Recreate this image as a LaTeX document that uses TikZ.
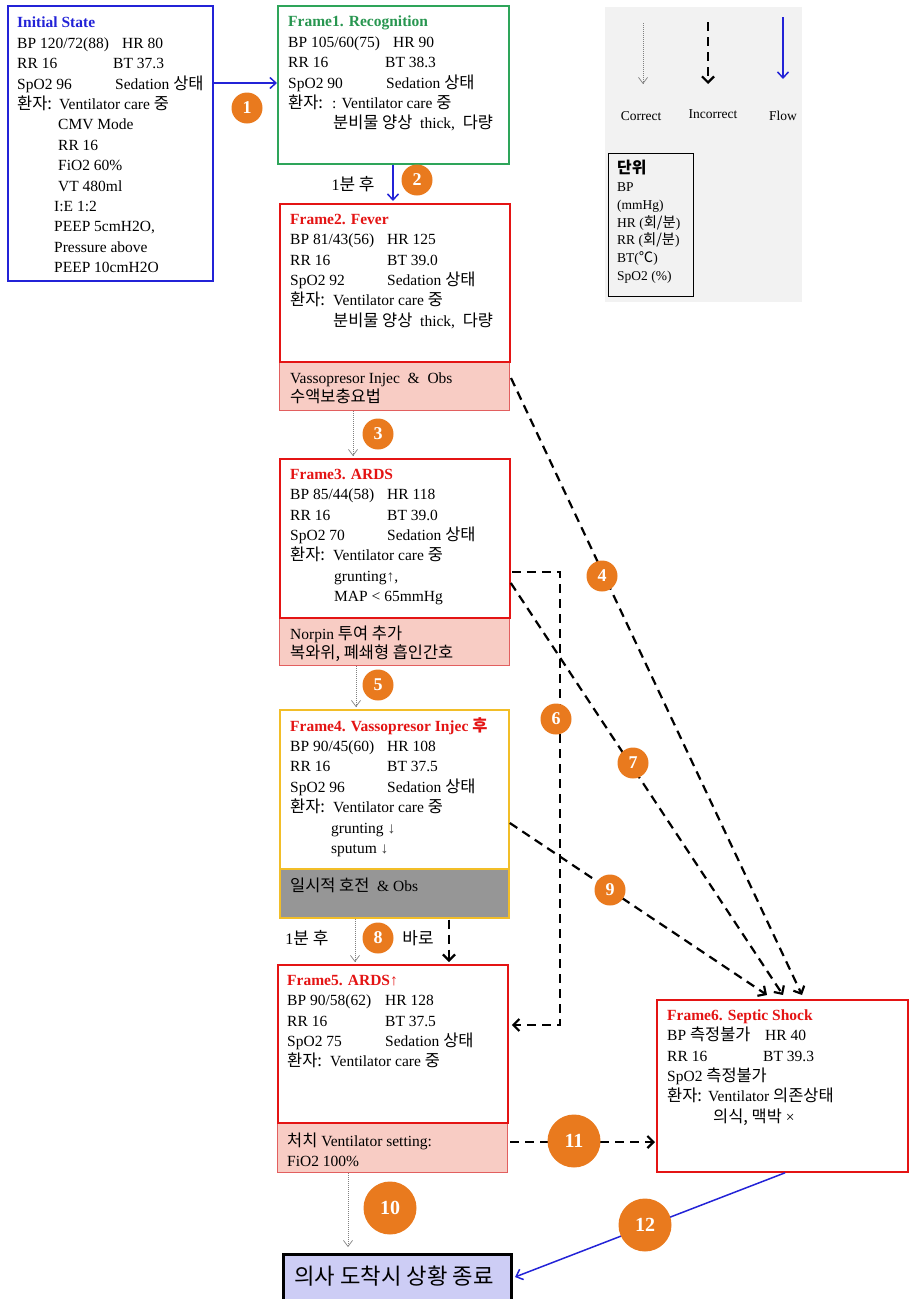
\documentclass[tikz,border=0pt]{standalone}
\usepackage{fontspec}
\setmainfont{Liberation Serif}
\newfontfamily\krf{Noto Sans CJK KR}[Scale=1.06]
\usetikzlibrary{arrows.meta,calc}
\newcommand\kor[1]{{\krf #1}}
\newcommand\fs{\fontsize{15.5}{20.4}\selectfont}
\newcommand\st{\rule{0pt}{12pt}}
\newcommand\cl[2]{\makebox[#1pt][l]{#2}}
\definecolor{fblue}{RGB}{35,35,215}
\definecolor{fgreen}{RGB}{46,165,90}
\definecolor{tgreen}{RGB}{40,150,80}
\definecolor{fred}{RGB}{228,20,20}
\definecolor{fgold}{RGB}{242,190,40}
\definecolor{pinkf}{RGB}{248,204,196}
\definecolor{pinkd}{RGB}{226,95,95}
\definecolor{grayf}{RGB}{150,150,150}
\definecolor{lav}{RGB}{205,205,245}
\definecolor{legbg}{RGB}{242,242,242}
\definecolor{orng}{RGB}{233,122,30}
\begin{document}
\begin{tikzpicture}[x=1pt,y=-1pt,
 box/.style={draw=#1, line width=1.8pt, inner sep=0pt, anchor=north west, fill=white},
 subbox/.style={draw=#1, line width=1pt, inner sep=0pt, anchor=north west},
 txt/.style={anchor=north west, inner sep=0pt, align=left, font=\fs},
 ball/.style={circle, fill=orng, text=white, inner sep=0pt, minimum size=31pt, font=\fontsize{18}{18}\selectfont\bfseries},
 bigball/.style={ball, minimum size=53pt, font=\fontsize{20}{20}\selectfont\bfseries},
 flow/.style={draw=fblue, line width=1.5pt, -{Straight Barb[length=6pt,width=11pt]}},
 wrong/.style={draw=black, line width=2.2pt, dash pattern=on 9pt off 6pt, -{Straight Barb[length=6pt,width=12pt]}},
 okay/.style={draw=gray, line width=0.7pt, dash pattern=on 1pt off 1pt, -{Straight Barb[length=6pt,width=9pt]}},
 lbl/.style={font=\fontsize{16}{20}\selectfont, inner sep=0pt}
]
\useasboundingbox (0,0) rectangle (908,1299);

% legend
\node[anchor=north west, fill=legbg, minimum width=197pt, minimum height=295pt, inner sep=0pt] (leg) at (605,7) {};
\coordinate (lc1) at (643,23); \coordinate (lc2) at (643,84);
\coordinate (li1) at (708,22); \coordinate (li2) at (708,84);
\coordinate (lf1) at (783,17); \coordinate (lf2) at (783,79);
\draw[okay] (lc1) -- (lc2);
\draw[wrong] (li1) -- (li2);
\draw[flow] (lf1) -- (lf2);
\node[inner sep=0pt, font=\fontsize{13.5}{16}\selectfont] (lcor) at (641,116) {Correct};
\node[inner sep=0pt, font=\fontsize{13.5}{16}\selectfont] (linc) at (713,114) {Incorrect};
\node[inner sep=0pt, font=\fontsize{13.5}{16}\selectfont] (lflo) at (783,116) {Flow};
\node[draw=black, line width=0.8pt, anchor=north west, minimum width=85pt, minimum height=143pt, inner sep=0pt] (unit) at (608,153) {};
\node[anchor=north west, inner sep=0pt, align=left, font=\fontsize{13.5}{17.8}\selectfont] (unitT) at (617,160) {\rule{0pt}{11pt}{\fontsize{15}{17.8}\selectfont\krf\bfseries 단위}\\BP\\(mmHg)\\HR (\kor{회/분})\\RR (\kor{회/분})\\BT(\kor{℃})\\SpO2 (\%)};

% boxes
\node[box=fblue, minimum width=205pt, minimum height=275pt] (init) at (7,5) {};
\node[box=fgreen, minimum width=231pt, minimum height=158pt] (f1) at (277,5) {};
\node[subbox=pinkd, fill=pinkf, minimum width=230pt, minimum height=49pt] (p2) at (279,361) {};
\node[box=fred, minimum width=230pt, minimum height=158pt] (f2) at (279,203) {};
\node[subbox=pinkd, fill=pinkf, minimum width=230pt, minimum height=48pt] (p3) at (279,617) {};
\node[box=fred, minimum width=230pt, minimum height=159pt] (f3) at (279,458) {};
\node[subbox=fgold, fill=grayf, minimum width=229pt, minimum height=49pt, line width=1.5pt] (g4) at (279,868) {};
\node[box=fgold, minimum width=229pt, minimum height=159pt] (f4) at (279,709) {};
\node[subbox=pinkd, fill=pinkf, minimum width=230pt, minimum height=50pt] (p5) at (277,1122) {};
\node[box=fred, minimum width=230pt, minimum height=158pt] (f5) at (277,964) {};
\node[box=fred, minimum width=251pt, minimum height=172pt] (f6) at (656,999) {};
\node[draw=black, line width=3pt, fill=lav, anchor=north west, minimum width=228pt, minimum height=52pt, inner sep=0pt] (fin) at (282,1253) {};
\node[inner sep=0pt, font=\fontsize{21}{26}\selectfont] (finT) at (394,1276) {\kor{의사 도착시 상황 종료}};

% texts
\node[txt] (initT) at (17,15.7) {\st{\color{fblue}\bfseries Initial State}\\
\cl{105}{BP 120/72(88)}HR 80\\
\cl{96}{RR 16}BT 37.3\\
\cl{98}{SpO2 96}Sedation \kor{상태}\\
\cl{42}{\kor{환자:}}Ventilator care \kor{중}\\
\hspace*{41pt}CMV Mode\\
\hspace*{41pt}RR 16\\
\hspace*{41pt}FiO2 60\%\\
\hspace*{41pt}VT 480ml\\
\hspace*{37pt}I:E 1:2\\
\hspace*{37pt}PEEP 5cmH2O,\\
\hspace*{37pt}Pressure above\\
\hspace*{37pt}PEEP 10cmH2O};

\node[txt] (f1T) at (288,14.7) {\st{\color{tgreen}\bfseries Frame1. Recognition}\\
\cl{105}{BP 105/60(75)}HR 90\\
\cl{97}{RR 16}BT 38.3\\
\cl{98}{SpO2 90}Sedation \kor{상태}\\
\cl{44}{\kor{환자:}}: Ventilator care \kor{중}\\
\hspace*{45pt}\kor{분비물 양상}\ \ thick,\ \ \kor{다량}};

\node[txt] (f2T) at (290,212) {\st{\color{fred}\bfseries Frame2. Fever}\\
\cl{97}{BP 81/43(56)}HR 125\\
\cl{97}{RR 16}BT 39.0\\
\cl{97}{SpO2 92}Sedation \kor{상태}\\
\cl{43}{\kor{환자:}}Ventilator care \kor{중}\\
\hspace*{43pt}\kor{분비물 양상}\ \ thick,\ \ \kor{다량}};
\node[txt, font=\fontsize{15.5}{19.2}\selectfont] (p2T) at (290,371) {\st Vassopresor Injec\ \ \&\ \ Obs\\\kor{수액보충요법}};

\node[txt] (f3T) at (290,467) {\st{\color{fred}\bfseries Frame3. ARDS}\\
\cl{97}{BP 85/44(58)}HR 118\\
\cl{97}{RR 16}BT 39.0\\
\cl{97}{SpO2 70}Sedation \kor{상태}\\
\cl{43}{\kor{환자:}}Ventilator care \kor{중}\\
\hspace*{44pt}grunting{\color{darkgray}↑},\\
\hspace*{44pt}MAP < 65mmHg};
\node[txt, font=\fontsize{15.5}{19.2}\selectfont] (p3T) at (290,626) {\st Norpin \kor{투여 추가}\\\kor{복와위, 폐쇄형 흡인간호}};

\node[txt] (f4T) at (290,717) {\st{\color{fred}\bfseries Frame4. Vassopresor Injec \kor{후}}\\
\cl{97}{BP 90/45(60)}HR 108\\
\cl{97}{RR 16}BT 37.5\\
\cl{97}{SpO2 96}Sedation \kor{상태}\\
\cl{43}{\kor{환자:}}Ventilator care \kor{중}\\
\hspace*{41pt}grunting {\color{darkgray}↓}\\
\hspace*{41pt}sputum {\color{darkgray}↓}};
\node[txt] (g4T) at (290,878) {\st\kor{일시적 호전}\ \ \& Obs};

\node[txt] (f5T) at (287,973) {\st{\color{fred}\bfseries Frame5. ARDS{\mdseries↑}}\\
\cl{98}{BP 90/58(62)}HR 128\\
\cl{98}{RR 16}BT 37.5\\
\cl{98}{SpO2 75}Sedation \kor{상태}\\
\cl{43}{\kor{환자:}}Ventilator care \kor{중}};
\node[txt, font=\fontsize{15.5}{19.6}\selectfont] (p5T) at (287,1133) {\st\kor{처치} Ventilator setting:\\FiO2 100\%};

\node[txt] (f6T) at (667,1008) {\st{\color{fred}\bfseries Frame6. Septic Shock}\\
\cl{98}{BP \kor{측정불가}}HR 40\\
\cl{96}{RR 16}BT 39.3\\
SpO2 \kor{측정불가}\\
\cl{41}{\kor{환자:}}Ventilator \kor{의존상태}\\
\hspace*{46pt}\kor{의식, 맥박} ×};

% labels
\node[lbl] (l2) at (353,184) {1\kor{분 후}};
\node[lbl] (l8a) at (307,938) {1\kor{분 후}};
\node[lbl] (l8b) at (418,938) {\kor{바로}};

% connectors
\draw[flow] ($(init.north east)+(0,78)$) -- ($(f1.north west)+(0,78)$);
\draw[flow] ($(f1.south west)+(116,0)$) -- ($(f2.north west)+(114,-2)$);
\draw[okay] ($(p2.south west)+(74,0)$) -- ($(f3.north west)+(74,-2)$);
\draw[okay] ($(p3.south west)+(77,0)$) -- ($(f4.north west)+(77,-2)$);
\draw[okay] ($(g4.south west)+(76,0)$) -- ($(f5.north west)+(78,-2)$);
\draw[okay] ($(p5.south west)+(71,0)$) -- ($(fin.north west)+(66,-6)$);
\draw[wrong] ($(g4.south west)+(170,1)$) -- ($(f5.north west)+(172,-2)$);
\draw[wrong] ($(p2.north east)+(1,17)$) -- ($(f6.north west)+(146,-4)$);
\draw[wrong] ($(f3.north east)+(1,114)$) -- ++(48,0) |- ($(f5.north east)+(3,61)$);
\draw[wrong] ($(f3.north east)+(0,125)$) -- ($(f6.north west)+(127,-4)$);
\draw[wrong] ($(f4.north east)+(0,114)$) -- ($(f6.north west)+(111,-4)$);
\draw[wrong] ($(p5.north east)+(2,20)$) -- ($(f6.north west)+(-1,143)$);
\draw[flow] ($(f6.south west)+(129,0)$) -- ($(fin.north east)+(2,24)$);

% numbered balls
\node[ball] (c1) at (247,108) {1};
\node[ball] (c2) at (417,180) {2};
\node[ball] (c3) at (378,434) {3};
\node[ball] (c4) at (602,576) {4};
\node[ball] (c5) at (378,685) {5};
\node[ball] (c6) at (556,719) {6};
\node[ball] (c7) at (633,763) {7};
\node[ball] (c8) at (378,938) {8};
\node[ball] (c9) at (610,890) {9};
\node[bigball] (c10) at (390,1208) {10};
\node[bigball] (c11) at (574,1141) {11};
\node[bigball] (c12) at (645,1225) {12};
\end{tikzpicture}
\end{document}
